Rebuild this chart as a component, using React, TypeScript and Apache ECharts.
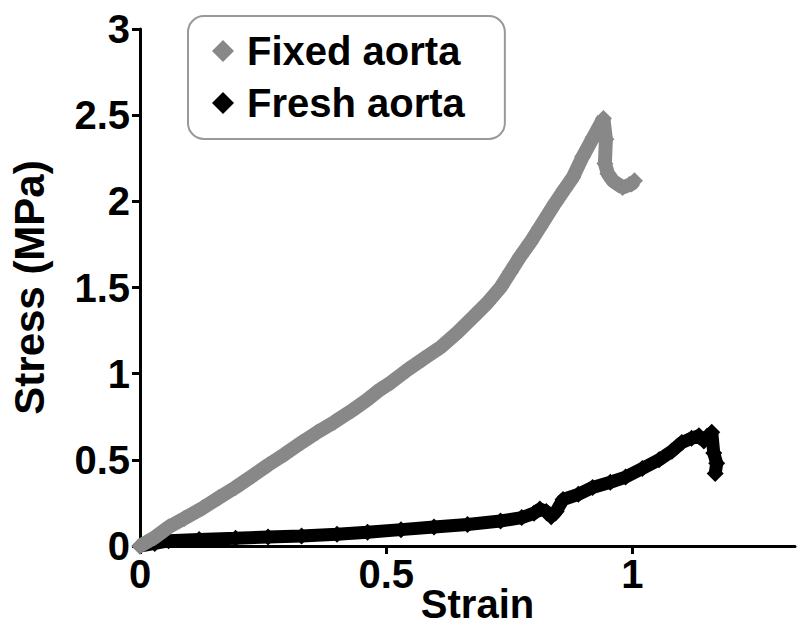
import React, { useEffect, useRef } from "react";
import * as echarts from "echarts";

const seriesNames = ["Fixed aorta", "Fresh aorta"];

const fixedStrain = [0, 0.03, 0.058, 0.09, 0.127, 0.16, 0.194, 0.23, 0.26, 0.295, 0.328, 0.36, 0.395, 0.43, 0.462, 0.486, 0.51, 0.542, 0.575, 0.611, 0.645, 0.677, 0.705, 0.732, 0.752, 0.772, 0.792, 0.812, 0.843, 0.862, 0.879, 0.899, 0.92, 0.941, 0.946, 0.944, 0.95, 0.96, 0.98, 0.998, 1.004];
const fixedStress = [0, 0.05, 0.11, 0.16, 0.22, 0.28, 0.34, 0.41, 0.47, 0.535, 0.6, 0.66, 0.72, 0.785, 0.85, 0.905, 0.95, 1.02, 1.085, 1.155, 1.24, 1.33, 1.41, 1.5, 1.59, 1.68, 1.76, 1.85, 1.99, 2.07, 2.14, 2.26, 2.37, 2.48, 2.36, 2.22, 2.16, 2.12, 2.08, 2.1, 2.12];

const freshStrain = [0, 0.03, 0.058, 0.12, 0.194, 0.26, 0.328, 0.4, 0.462, 0.53, 0.597, 0.665, 0.732, 0.775, 0.8, 0.812, 0.825, 0.835, 0.845, 0.859, 0.89, 0.919, 0.955, 0.986, 1.02, 1.054, 1.08, 1.1, 1.12, 1.135, 1.145, 1.161, 1.165, 1.171, 1.168];
const freshStress = [0, 0.015, 0.03, 0.038, 0.045, 0.052, 0.058, 0.068, 0.08, 0.095, 0.11, 0.125, 0.145, 0.165, 0.19, 0.215, 0.2, 0.17, 0.2, 0.27, 0.3, 0.34, 0.37, 0.4, 0.45, 0.5, 0.55, 0.6, 0.625, 0.64, 0.61, 0.66, 0.54, 0.48, 0.42];

const xTicks = { min: 0, max: 1.33, interval: 0.5 };
const yTicks = { min: 0, max: 3, interval: 0.5 };

const FONT = "'Liberation Sans', Arial, sans-serif";

export default function App() {
  const ref = useRef<HTMLDivElement>(null);
  useEffect(() => {
    if (!ref.current) return;
    const chart = echarts.init(ref.current, null, { renderer: "svg" });
    const fixedData = fixedStrain.map((x, i) => [x, fixedStress[i]]);
    const freshData = freshStrain.map((x, i) => [x, freshStress[i]]);
    const axisCommon = {
      axisLine: { show: true, onZero: false, lineStyle: { color: "#000", width: 3 } },
      axisTick: { show: true, length: 8, lineStyle: { color: "#000", width: 3 } },
      splitLine: { show: false },
    };
    chart.setOption({
      animation: false,
      backgroundColor: "#fff",
      grid: { left: 134, right: 5, top: 29, bottom: 98, containLabel: false },
      legend: {
        orient: "vertical",
        left: 188,
        top: 16,
        data: ["Fixed aorta", "Fresh aorta"],
        icon: "diamond",
        itemWidth: 22,
        itemHeight: 22,
        itemGap: 12,
        padding: [15, 40, 16, 24],
        borderColor: "#999",
        borderWidth: 2,
        borderRadius: 16,
        textStyle: { fontFamily: FONT, fontWeight: "bold", fontSize: 40, color: "#000", padding: [0, 0, 0, 8] },
      },
      xAxis: {
        type: "value",
        min: xTicks.min,
        max: xTicks.max,
        interval: xTicks.interval,
        name: "Strain",
        nameLocation: "middle",
        nameGap: 38,
        nameMoveOverlap: false,
        nameTextStyle: { fontFamily: FONT, fontWeight: "bold", fontSize: 40, color: "#000", padding: [0, 0, 0, 20] },
        axisLabel: {
          fontFamily: FONT,
          fontWeight: "bold",
          fontSize: 40,
          color: "#000",
          margin: 8,
          showMaxLabel: false,
          formatter: (v: number) => String(v),
        },
        ...axisCommon,
      },
      yAxis: {
        type: "value",
        min: yTicks.min,
        max: yTicks.max,
        interval: yTicks.interval,
        name: "Stress (MPa)",
        nameLocation: "middle",
        nameGap: 90,
        nameMoveOverlap: false,
        nameTextStyle: { fontFamily: FONT, fontWeight: "bold", fontSize: 42, color: "#000" },
        axisLabel: {
          fontFamily: FONT,
          fontWeight: "bold",
          fontSize: 40,
          color: "#000",
          margin: 10,
          formatter: (v: number) => String(v),
        },
        ...axisCommon,
      },
      series: [
        {
          name: seriesNames[1],
          type: "line",
          data: freshData,
          symbol: "diamond",
          symbolSize: 17,
          showSymbol: true,
          itemStyle: { color: "#000" },
          lineStyle: { color: "#000", width: 13 },
          z: 2,
        },
        {
          name: seriesNames[0],
          type: "line",
          data: fixedData,
          symbol: "diamond",
          symbolSize: 17,
          showSymbol: true,
          itemStyle: { color: "#888" },
          lineStyle: { color: "#888", width: 14 },
          z: 3,
        },
      ],
    });
    return () => chart.dispose();
  }, []);
  return <div ref={ref} style={{ width: 800, height: 644, position: "absolute", left: 0, top: 0 }} />;
}
